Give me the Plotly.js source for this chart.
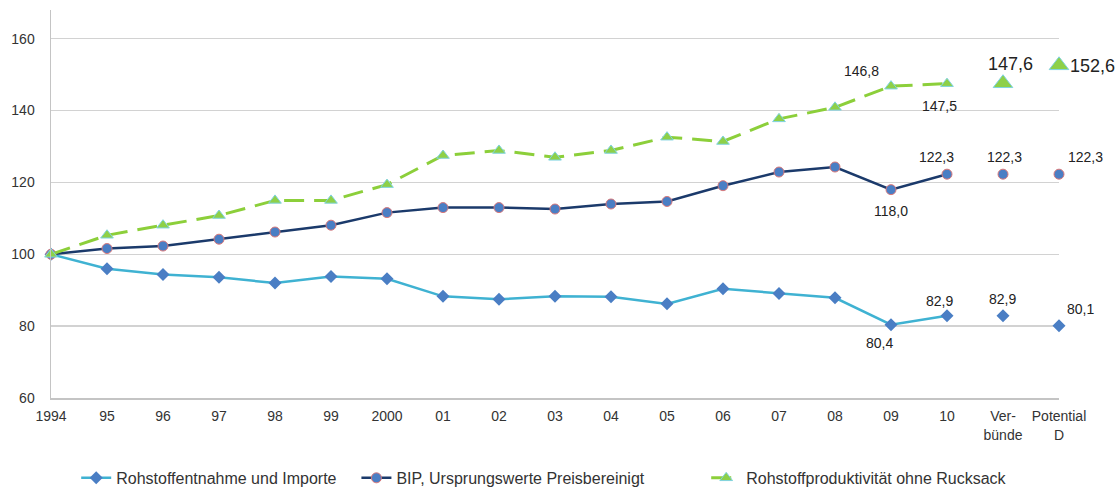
<!DOCTYPE html>
<html>
<head>
<meta charset="utf-8">
<script src="https://cdn.plot.ly/plotly-3.0.1.min.js"></script>
<style>html,body{margin:0;padding:0;background:#fff;}#chart{width:1115px;height:490px;}</style>
</head>
<body>
<div id="chart"></div>
<script>
var categories = ["1994","95","96","97","98","99","2000","01","02","03","04","05","06","07","08","09","10","Ver-<br>bünde","Potential<br>D"];
var rohstoff = [100,96.0,94.4,93.6,92.0,93.8,93.2,88.3,87.5,88.3,88.2,86.2,90.4,89.1,87.9,80.4,82.9,82.9,80.1];
var bip = [100,101.6,102.3,104.2,106.2,108.1,111.6,113.0,113.0,112.6,114.0,114.7,119.1,122.9,124.3,118.0,122.3,122.3,122.3];
var produktiv = [100,105.3,108.1,110.8,115.0,115.0,119.4,127.5,128.9,127.0,128.9,132.6,131.4,137.7,140.9,146.8,147.5,147.6,152.6];
var seriesNames = ["Rohstoffentnahme und Importe","BIP, Ursprungswerte Preisbereinigt","Rohstoffproduktivität ohne Rucksack"];

var nLine = 17;
var lineCats = categories.slice(0, nLine);
var extraCats = categories.slice(nLine);

var cLight = "#3FB2D2", cMarker = "#4A7EC4", cNavy = "#1B3A6B", cRed = "#D9787A", cGreen = "#8ED048", cGreenLine = "#8CCF3A", cCyan = "#7FD3E0";

var traces = [
  {x: lineCats, y: rohstoff.slice(0,nLine), name: seriesNames[0], mode: "lines+markers", cliponaxis: false,
   line: {color: cLight, width: 2.5}, marker: {symbol: "diamond", size: 10, color: cMarker}, legend: "legend"},
  {x: extraCats, y: rohstoff.slice(nLine), mode: "markers", showlegend: false, cliponaxis: false,
   marker: {symbol: "diamond", size: 10, color: cMarker}},
  {x: lineCats, y: bip.slice(0,nLine), name: seriesNames[1], mode: "lines+markers", cliponaxis: false,
   line: {color: cNavy, width: 2.5}, marker: {symbol: "circle", size: 10, color: cMarker, line: {color: cRed, width: 1}}, legend: "legend2"},
  {x: extraCats, y: bip.slice(nLine), mode: "markers", showlegend: false, cliponaxis: false,
   marker: {symbol: "circle", size: 10, color: cMarker, line: {color: cRed, width: 1}}},
  {x: lineCats, y: produktiv.slice(0,nLine), name: seriesNames[2], mode: "lines+markers", cliponaxis: false,
   line: {color: cGreenLine, width: 3, dash: "20px,10px"}, marker: {symbol: "triangle-up", size: 11, color: cGreen, line: {color: cCyan, width: 1}}, legend: "legend3"},
  {x: extraCats, y: produktiv.slice(nLine), mode: "markers", showlegend: false, cliponaxis: false,
   marker: {symbol: "triangle-up", size: 17, color: cGreen, line: {color: cCyan, width: 1}}}
];

// data labels: [series array, category index, xshift, yshift, font size]
var labelSpecs = [
  [produktiv, 15, -30, 15, 14],
  [produktiv, 16, -8, -22, 14],
  [produktiv, 17, 7, 19, 18],
  [produktiv, 18, 33, -1, 18],
  [bip, 16, -11, 17, 14],
  [bip, 17, 1, 17, 14],
  [bip, 18, 26, 17, 14],
  [bip, 15, 0, -21, 14],
  [rohstoff, 16, -8, 15, 14],
  [rohstoff, 17, -1, 17, 14],
  [rohstoff, 18, 21, 17, 14],
  [rohstoff, 15, -12, -18, 14]
];
var annotations = labelSpecs.map(function(s){
  return {x: s[1], y: s[0][s[1]], xref: "x", yref: "y",
    text: s[0][s[1]].toFixed(1).replace(".", ","), showarrow: false,
    xshift: s[2], yshift: s[3], font: {family: "Liberation Sans, Arial, sans-serif", size: s[4], color: "#222"}};
});

var legendFont = {family: "Liberation Sans, Arial, sans-serif", size: 16, color: "#333"};
function leg(x){ return {orientation: "h", x: x, xanchor: "left", y: -0.206, yanchor: "middle", font: legendFont, bgcolor: "rgba(0,0,0,0)"}; }

var layout = {
  width: 1115, height: 490,
  margin: {l: 51, r: 56, t: 10, b: 92, autoexpand: false},
  paper_bgcolor: "#fff", plot_bgcolor: "#fff",
  font: {family: "Liberation Sans, Arial, sans-serif", size: 14, color: "#333"},
  xaxis: {type: "category", range: [0, 18], showgrid: false, showline: true, linecolor: "#c4c4c4", linewidth: 1.5,
          ticks: "", tickfont: {size: 14, color: "#333"}, fixedrange: true, ticklabelstandoff: 5},
  yaxis: {range: [60, 168], tickvals: [60,80,100,120,140,160], showgrid: true, gridcolor: "#d2d2d2", gridwidth: 1.5,
          showline: true, linecolor: "#c4c4c4", linewidth: 1.5, zeroline: false, ticks: "", ticklabelstandoff: 12,
          tickfont: {size: 14, color: "#333"}, fixedrange: true},
  showlegend: true,
  legend: leg(0.025),
  legend2: leg(0.303),
  legend3: leg(0.65),
  annotations: annotations
};

Plotly.newPlot("chart", traces, layout, {displayModeBar: false, staticPlot: true});
</script>
</body>
</html>
